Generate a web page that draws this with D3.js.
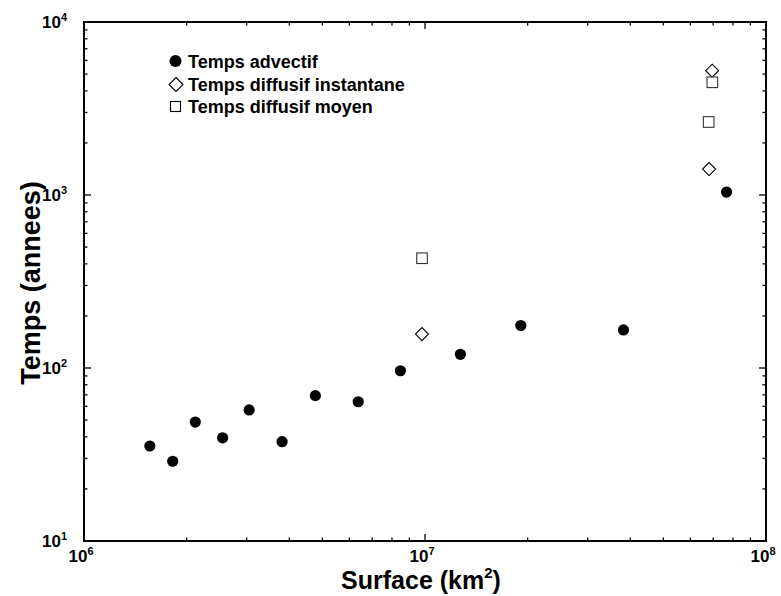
<!DOCTYPE html>
<html><head><meta charset="utf-8">
<script src="https://cdn.jsdelivr.net/npm/d3@7"></script>
<style>body{margin:0;background:#fff}svg{display:block}text{font-family:"Liberation Sans",Arial,sans-serif;font-weight:bold;fill:#000}</style>
</head><body>
<script>
const advSurface = [1.56e6, 1.82e6, 2.12e6, 2.55e6, 3.05e6, 3.81e6, 4.77e6, 6.37e6, 8.47e6, 1.27e7, 1.91e7, 3.82e7, 7.66e7];
const advTemps   = [35.4, 28.9, 48.7, 39.5, 57.2, 37.5, 69.2, 63.8, 96.4, 120, 176, 166, 1040];
const instSurface = [9.8e6, 6.81e7, 6.95e7];
const instTemps   = [157, 1413, 5230];
const moySurface = [9.8e6, 6.79e7, 6.96e7];
const moyTemps   = [431, 2642, 4482];
const xTickExp = [6, 7, 8];
const yTickExp = [1, 2, 3, 4];
const legendLabels = ["Temps advectif", "Temps diffusif instantane", "Temps diffusif moyen"];
const xTitle = "Surface (km";
const yTitle = "Temps (annees)";

const W = 781, H = 596;
const L = 84, R = 766, T = 22, B = 541;
const svg = d3.select("body").append("svg").attr("width", W).attr("height", H);
const x = d3.scaleLog().domain([1e6, 1e8]).range([L, R]);
const y = d3.scaleLog().domain([10, 1e4]).range([B, T]);

const xMinor = [], yMinor = [];
for (let e = 6; e < 8; e++) for (let m = 2; m <= 9; m++) xMinor.push(m * Math.pow(10, e));
for (let e = 1; e < 4; e++) for (let m = 2; m <= 9; m++) yMinor.push(m * Math.pow(10, e));
const xMajor = xTickExp.map(e => Math.pow(10, e));
const yMajor = yTickExp.map(e => Math.pow(10, e));

const g = svg.append("g");
function ticks(vals, len) {
  vals.forEach(v => {
    const px = x(v);
    g.append("line").attr("x1", px).attr("x2", px).attr("y1", B).attr("y2", B - len).attr("stroke", "#000").attr("stroke-width", 1.3);
    g.append("line").attr("x1", px).attr("x2", px).attr("y1", T).attr("y2", T + len).attr("stroke", "#000").attr("stroke-width", 1.3);
  });
}
function yticks(vals, len) {
  vals.forEach(v => {
    const py = y(v);
    g.append("line").attr("y1", py).attr("y2", py).attr("x1", L).attr("x2", L + len).attr("stroke", "#000").attr("stroke-width", 1.3);
    g.append("line").attr("y1", py).attr("y2", py).attr("x1", R).attr("x2", R - len).attr("stroke", "#000").attr("stroke-width", 1.3);
  });
}
ticks(xMinor, 3.5); ticks(xMajor, 7);
yticks(yMinor, 3.5); yticks(yMajor, 7);
g.append("rect").attr("x", L).attr("y", T).attr("width", R - L).attr("height", B - T)
  .attr("fill", "none").attr("stroke", "#000").attr("stroke-width", 2);

// tick labels
xTickExp.forEach(e => {
  const t = svg.append("text").attr("x", x(Math.pow(10, e)) - 3).attr("y", 562)
    .attr("text-anchor", "middle").attr("font-size", 17);
  t.append("tspan").text("10");
  t.append("tspan").attr("font-size", 11).attr("dy", -7).text(e);
});
yTickExp.forEach(e => {
  const t = svg.append("text").attr("x", 67).attr("y", y(Math.pow(10, e)) + 6)
    .attr("text-anchor", "end").attr("font-size", 17);
  t.append("tspan").text("10");
  t.append("tspan").attr("font-size", 11).attr("dy", -7).text(e);
});

// titles
const xt = svg.append("text").attr("x", 421).attr("y", 589).attr("text-anchor", "middle").attr("font-size", 25);
xt.append("tspan").text(xTitle);
xt.append("tspan").attr("font-size", 15).attr("dy", -11).text("2");
xt.append("tspan").attr("dy", 11).text(")");
svg.append("text").attr("transform", "translate(40,283) rotate(-90)").attr("text-anchor", "middle")
  .attr("font-size", 27).text(yTitle);

// data
const pts = svg.append("g");
pts.selectAll("circle.adv").data(advSurface.map((s, i) => [s, advTemps[i]])).join("circle")
  .attr("cx", d => x(d[0])).attr("cy", d => y(d[1])).attr("r", 5.6).attr("fill", "#000");
pts.selectAll("path.inst").data(instSurface.map((s, i) => [s, instTemps[i]])).join("path")
  .attr("d", d => { const cx = x(d[0]), cy = y(d[1]), r = 6.5; return `M${cx},${cy - r}L${cx + r},${cy}L${cx},${cy + r}L${cx - r},${cy}Z`; })
  .attr("fill", "#fff").attr("stroke", "#000").attr("stroke-width", 1.1);
pts.selectAll("rect.moy").data(moySurface.map((s, i) => [s, moyTemps[i]])).join("rect")
  .attr("x", d => x(d[0]) - 5.3).attr("y", d => y(d[1]) - 5.3).attr("width", 10.6).attr("height", 10.6)
  .attr("fill", "#fff").attr("stroke", "#333").attr("stroke-width", 1.1);

// legend
const lg = svg.append("g");
const ly = [61, 84.5, 106.5];
lg.append("circle").attr("cx", 175.5).attr("cy", ly[0]).attr("r", 6).attr("fill", "#000");
{ const cx = 176, cy = ly[1], r = 7; lg.append("path").attr("d", `M${cx},${cy - r}L${cx + r},${cy}L${cx},${cy + r}L${cx - r},${cy}Z`).attr("fill", "#fff").attr("stroke", "#000").attr("stroke-width", 1.1); }
lg.append("rect").attr("x", 170.5).attr("y", ly[2] - 5).attr("width", 10).attr("height", 10).attr("fill", "#fff").attr("stroke", "#000").attr("stroke-width", 1.1);
legendLabels.forEach((t, i) => {
  lg.append("text").attr("x", 188).attr("y", ly[i] + 6.5).attr("font-size", 18).text(t);
});
</script>
</body></html>
